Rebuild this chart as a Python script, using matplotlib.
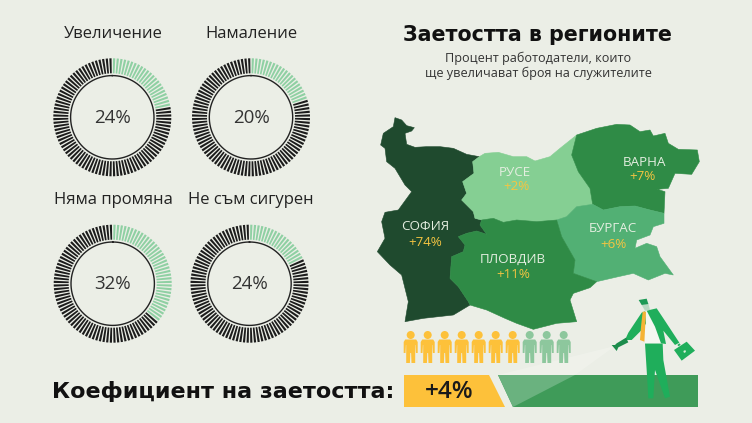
import numpy as np
import matplotlib
matplotlib.use('Agg')
import matplotlib.pyplot as plt
from matplotlib.patches import Polygon, Circle

# gauges
gauge_titles = ['Увеличение', 'Намаление', 'Няма промяна', 'Не съм сигурен']
gauge_labels = ['24%', '20%', '32%', '24%']
gauge_green = [22, 20, 36, 18]  # green ticks as drawn (not quite the printed numbers)
gauge_centers = [(112.3, 117.3), (251, 117.3), (112.7, 283.7), (249.5, 283.7)]
gauge_title_pos = [(113, 34), (251, 34), (113, 200), (251, 200)]
n_ticks = 100

# regions
region_names = ['СОФИЯ', 'РУСЕ', 'ВАРНА', 'БУРГАС', 'ПЛОВДИВ']
region_values = ['+74%', '+2%', '+7%', '+6%', '+11%']
region_colors = ['#1f4a2e', '#85cf93', '#2f8b46', '#52b074', '#2f8b46']
name_pos = [(425, 227), (515, 172), (645, 162), (613, 229), (513, 259)]
value_pos = [(425, 242), (516, 187), (642, 177), (613, 244), (513, 274)]

sofia = [(75,38),(95,45),(110,62),(133,68),(125,78),(105,85),(110,118),(135,127),(170,125),(210,125),(250,130),
         (290,148),(328,155),(308,170),(312,205),(278,230),(290,265),(275,285),(310,320),(315,340),(335,345),
         (330,360),(350,388),(320,378),(290,385),(265,395),(285,420),(280,440),(245,455),(240,520),(265,545),
         (295,590),(300,600),(250,630),(160,640),(105,650),(115,590),(95,510),(60,480),(22,440),(45,400),(35,350),
         (45,322),(85,315),(125,260),(105,240),(75,190),(50,170),(45,130),(32,120),(40,85),(70,65)]
ruse = [(328,155),(345,145),(385,142),(430,155),(470,155),(495,168),(540,155),(570,130),(620,90),(605,150),(625,200),
        (660,250),(668,298),(620,305),(590,335),(560,345),(500,350),(440,345),(400,352),(370,340),(335,345),(315,340),
        (310,320),(275,285),(290,265),(278,230),(312,205),(308,170)]
varna = [(620,90),(680,70),(740,58),(780,60),(810,80),(840,75),(850,93),(885,85),(895,115),(925,133),(982,135),
         (988,170),(965,208),(915,205),(895,250),(862,253),(885,260),(882,325),(840,315),(795,303),(750,305),
         (700,315),(668,298),(660,250),(625,200),(605,150)]
burgas = [(668,298),(700,315),(750,305),(795,303),(840,315),(882,325),(882,355),(850,365),(840,390),(800,405),
          (795,430),(830,415),(860,425),(870,455),(910,510),(885,505),(835,525),(790,505),(745,515),(680,530),
          (610,505),(615,465),(595,430),(575,395),(560,345),(590,335),(620,305)]
plovdiv = [(335,345),(370,340),(400,352),(440,345),(500,350),(560,345),(575,395),(595,430),(615,465),(610,505),
           (680,530),(660,548),(610,565),(600,585),(620,650),(560,655),(490,673),(440,655),(405,640),(350,615),
           (300,600),(295,590),(265,545),(240,520),(245,455),(280,440),(285,420),(265,395),(290,385),(320,378),
           (350,388),(330,360)]
region_shapes = [sofia, ruse, varna, burgas, plovdiv]

# people row
people_total = 10
people_yellow = 7
rate_label = '+4%'

BG = '#ebeee6'
YELLOW = '#fdc13a'
MAN = '#1fae5b'

fig = plt.figure(figsize=(7.52, 4.23), dpi=100, facecolor=BG)
ax = fig.add_axes([0, 0, 1, 1])
ax.set_xlim(0, 752)
ax.set_ylim(423, 0)
ax.axis('off')


def poly(pts, color, z=2, alpha=None, ec=None):
    ax.add_patch(Polygon(pts, closed=True, fc=color, ec=ec if ec else 'none', lw=0.4, alpha=alpha, zorder=z))


# gauges, each one its own polar axes with 1 unit = 1 px
for i in range(4):
    cx, cy = gauge_centers[i]
    pa = fig.add_axes([(cx - 60) / 752, 1 - (cy + 60) / 423, 120 / 752, 120 / 423], projection='polar')
    pa.set_theta_zero_location('N')
    pa.set_theta_direction(-1)
    pa.set_ylim(0, 60)
    pa.axis('off')
    pa.patch.set_alpha(0)
    theta = (np.arange(n_ticks) + 0.5) / n_ticks * 2 * np.pi
    cols = ['#8fd0a3' if k < gauge_green[i] else '#1c1c1c' for k in range(n_ticks)]
    pa.bar(theta, 15, width=0.6 * 2 * np.pi / n_ticks, bottom=44, color=cols, linewidth=0)
    t = np.linspace(0, 2 * np.pi, 200)
    pa.plot(t, np.full(200, 41.7), color='#222222', lw=1.0)
    ax.text(cx, cy + 0.5, gauge_labels[i], ha='center', va='center', fontsize=13.5, color='#333333', family='Open Sans')
    tx, ty = gauge_title_pos[i]
    ax.text(tx, ty, gauge_titles[i], ha='center', va='center', fontsize=12, color='#222222', family='Open Sans')

# map
for pts, col in zip(region_shapes, region_colors):
    arr = np.array(pts) / 3.0 + [370, 105]
    poly(arr, col, z=2, ec=col)
for i in range(5):
    ax.text(name_pos[i][0], name_pos[i][1], region_names[i], ha='center', va='center', fontsize=9.6,
            color='#e4eee0', family='Open Sans', zorder=4)
    ax.text(value_pos[i][0], value_pos[i][1], region_values[i], ha='center', va='center', fontsize=9.6,
            color='#f5c542', family='Open Sans', zorder=4)

# titles
ax.text(537.5, 35, 'Заетостта в регионите', ha='center', va='center', fontsize=14.9, fontweight='bold', color='#111111')
ax.text(538, 58, 'Процент работодатели, които', ha='center', va='center', fontsize=9.1, color='#333333', family='Open Sans')
ax.text(538, 73, 'ще увеличават броя на служителите', ha='center', va='center', fontsize=9.1, color='#333333', family='Open Sans')

# people
for i in range(people_total):
    x = 410.7 + i * 17
    col = YELLOW if i < people_yellow else '#8dc79d'
    ax.add_patch(Circle((x, 335), 4, fc=col, ec='none', zorder=3))
    body = np.array([(-5.5, 339.5), (5.5, 339.5), (7, 342), (7, 353), (5.2, 353), (4.8, 345), (4.5, 345), (4.5, 363),
                     (0.8, 363), (0.4, 353), (-0.4, 353), (-0.8, 363), (-4.5, 363), (-4.5, 345), (-4.8, 345),
                     (-5.2, 353), (-7, 353), (-7, 342)], dtype=float) + [x, 0]
    poly(body, col, z=3)

# bottom band
ax.text(52, 391, 'Коефициент на заетостта:', ha='left', va='center', fontsize=16.0, fontweight='bold', color='#111111')
poly([(404, 375), (489, 375), (505, 407), (404, 407)], YELLOW)
ax.text(449, 392, rate_label, ha='center', va='center', fontsize=17.5, color='#1a1a1a', family='Open Sans', fontweight='semibold', zorder=4)
poly([(498, 375), (698, 375), (698, 407), (513, 407)], '#3f9b59')
poly([(498, 375), (575, 375), (513, 407)], '#6ab27f', z=3)
poly([(615, 346), (575, 375), (498, 375)], '#f2f4ee', z=1, alpha=0.6)

# man with torch, outlines from a 3x crop starting at (600,290)
def man(pts, color, z=5):
    poly(np.array(pts) / 3.0 + [600, 290], color, z=z)


man([(135,160), (188,160), (190,210), (210,320), (195,325), (165,240), (160,325), (145,325), (140,240)], MAN)
man([(128,65), (152,62), (170,100), (188,160), (135,160)], '#f4f7f1')
man([(140,62), (170,55), (190,85), (238,158), (225,165), (190,122), (198,162), (183,160), (165,110)], MAN, z=6)
man([(125,68), (135,64), (138,100), (130,115), (95,150), (75,150), (85,128)], MAN, z=6)
man([(128,65), (138,65), (135,120), (133,155), (120,150), (123,110)], '#f5b335', z=7)
man([(35,165), (50,183), (55,172), (85,157), (78,143), (50,160), (45,165)], '#1c8c4c', z=6)
man([(222,180), (260,155), (285,182), (245,212)], MAN, z=6)
man([(232,165), (238,160), (242,164), (236,169)], MAN, z=6)
man([(250,183), (256,180), (258,186), (252,189)], '#d9efd9', z=7)
man([(125,45), (145,40), (150,60), (135,62)], '#b7d9c2', z=6)
man([(116,30), (140,26), (145,42), (125,45)], '#1c9a55', z=7)

plt.savefig('out.png', dpi=100, facecolor=BG)
plt.close()
